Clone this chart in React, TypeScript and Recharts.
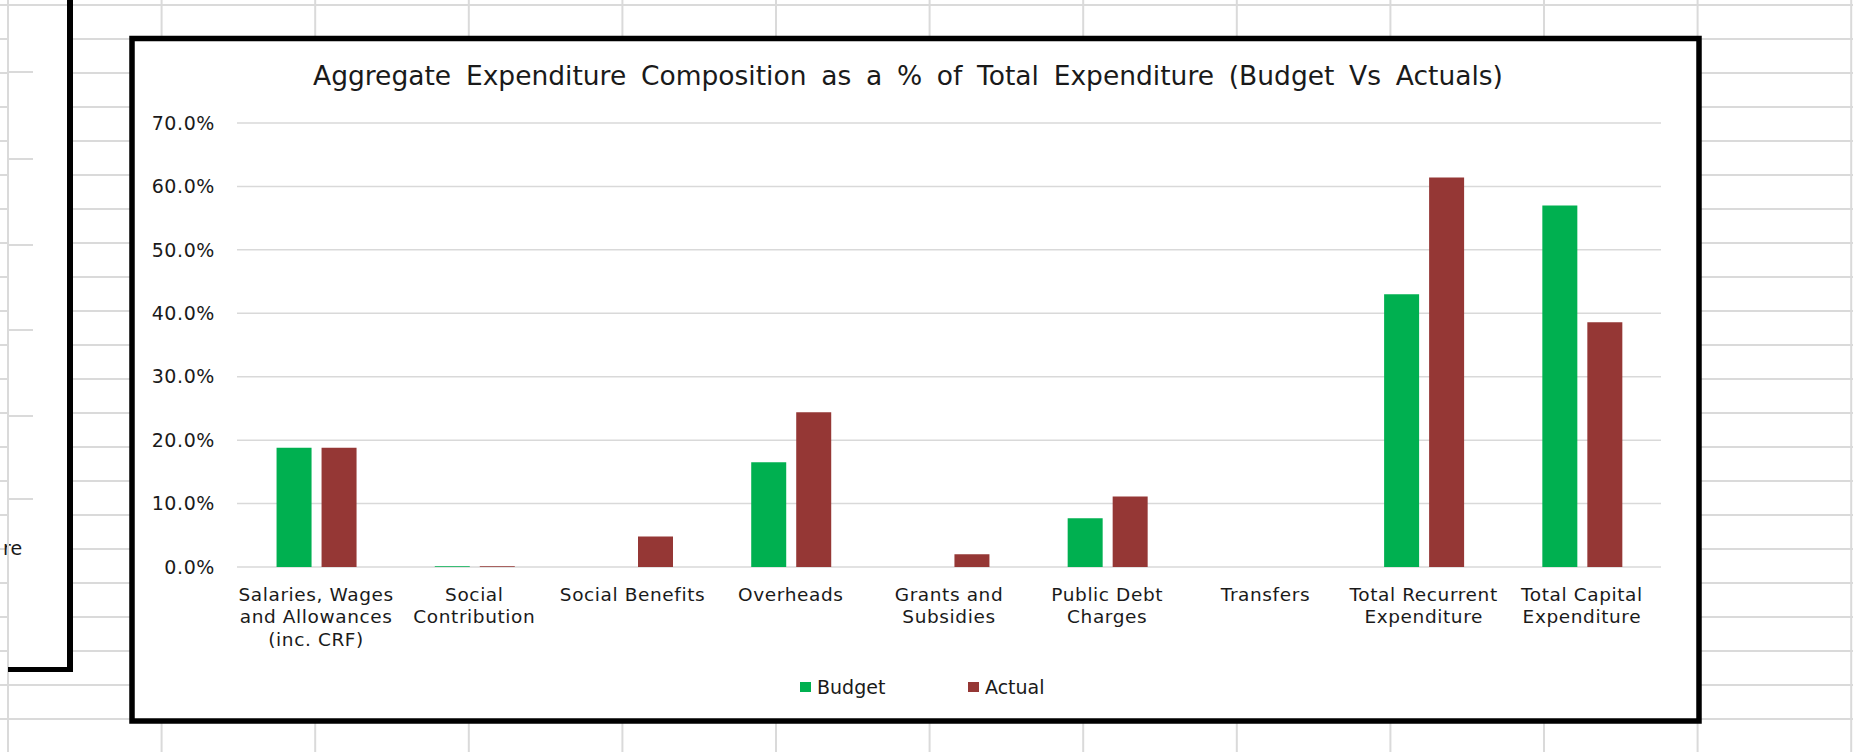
import React from 'react';
import { BarChart, Bar, XAxis, YAxis, CartesianGrid, Legend } from 'recharts';

const categories = [
  'Salaries, Wages\nand Allowances\n(inc. CRF)',
  'Social\nContribution',
  'Social Benefits',
  'Overheads',
  'Grants and\nSubsidies',
  'Public Debt\nCharges',
  'Transfers',
  'Total Recurrent\nExpenditure',
  'Total Capital\nExpenditure',
];
const budget = [18.8, 0.1, 0, 16.5, 0, 7.7, 0, 43.0, 57.0];
const actual = [18.8, 0.1, 4.8, 24.4, 2.0, 11.1, 0, 61.4, 38.6];
const yTicks = [0, 10, 20, 30, 40, 50, 60, 70];
const seriesNames = ['Budget', 'Actual'];
const seriesColors = ['#00B050', '#953735'];
const title = 'Aggregate Expenditure Composition as a % of Total Expenditure (Budget Vs Actuals)';
const clippedText = 're';

const data = categories.map((c, i) => ({ category: c, [seriesNames[0]]: budget[i], [seriesNames[1]]: actual[i] }));

const FONT = '"DejaVu Sans", Verdana, sans-serif';
const TEXT = '#1a1a1a';
const W = 1853;
const H = 752;

const CatTick = (props: any) => {
  const { x, y, payload } = props;
  const lines = String(payload.value).split('\n');
  return (
    <g>
      {lines.map((l: string, i: number) => (
        <text
          key={i}
          x={x}
          y={y + 33.5 + i * 22.5}
          textAnchor="middle"
          fontFamily={FONT}
          fontSize={18.5}
          fill={TEXT}
          style={{ letterSpacing: '0.6px' }}
        >
          {l}
        </text>
      ))}
    </g>
  );
};

const renderLegend = (props: any) => {
  const payload = [...(props.payload || [])].sort(
    (a: any, b: any) => seriesNames.indexOf(a.value) - seriesNames.indexOf(b.value)
  );
  return (
    <div style={{ display: 'flex', fontFamily: FONT, fontSize: 19, color: TEXT, lineHeight: '22px' }}>
      {payload.map((p: any, i: number) => (
        <div key={i} style={{ width: 168, display: 'flex', alignItems: 'center' }}>
          <span style={{ width: 11, height: 10, background: p.color, marginRight: 6, display: 'inline-block' }} />
          {p.value}
        </div>
      ))}
    </div>
  );
};

const Background = () => {
  const vx: number[] = [];
  for (let k = 0; k <= 12; k++) vx.push(8 + 153.6 * k);
  const hy: number[] = [];
  for (let k = 0; k <= 21; k++) hy.push(5 + 34 * k);
  const otherGrid = [72, 159, 245, 330, 416, 499];
  return (
    <svg width={W} height={H} style={{ position: 'absolute', left: 0, top: 0 }}>
      <rect x={0} y={0} width={W} height={H} fill="#ffffff" />
      {hy.map((y, i) => (
        <line key={'h' + i} x1={0} x2={W} y1={y} y2={y} stroke="#dadada" strokeWidth={2} />
      ))}
      {vx.map((x, i) => (
        <line key={'v' + i} x1={x} x2={x} y1={0} y2={H} stroke="#dadada" strokeWidth={2} />
      ))}
      {/* neighbouring chart (partially visible) */}
      <rect x={9} y={7} width={61} height={663} fill="#ffffff" />
      {otherGrid.map((y, i) => (
        <line key={'o' + i} x1={9} x2={33} y1={y} y2={y} stroke="#dadada" strokeWidth={2} />
      ))}
      <text x={3} y={555} fontFamily={FONT} fontSize={19} fill={TEXT}>{clippedText}</text>
      <line x1={8} x2={8} y1={0} y2={H} stroke="#dadada" strokeWidth={2} />
      <line x1={70} x2={70} y1={0} y2={672} stroke="#000" strokeWidth={6} />
      <line x1={8} x2={73} y1={669.5} y2={669.5} stroke="#000" strokeWidth={5} />
      {/* main chart frame */}
      <rect x={132} y={38.5} width={1567} height={682.5} fill="#ffffff" stroke="#000" strokeWidth={5.5} />
      <text
        x={908}
        y={84.5}
        textAnchor="middle"
        fontFamily={FONT}
        fontSize={26.5}
        fill={TEXT}
        style={{ wordSpacing: '6.3px' }}
      >
        {title}
      </text>
    </svg>
  );
};

export default function App() {
  return (
    <div style={{ position: 'absolute', left: 0, top: 0, width: W, height: H, overflow: 'hidden', background: '#fff' }}>
      <Background />
      <div style={{ position: 'absolute', left: 0, top: 0 }}>
        <BarChart
          width={W}
          height={H}
          data={data}
          margin={{ top: 123, right: 192, bottom: 125, left: 157 }}
          barCategoryGap="25%"
          barGap={10}
        >
          <CartesianGrid vertical={false} stroke="#d9d9d9" strokeWidth={1.5} />
          <XAxis
            dataKey="category"
            interval={0}
            height={60}
            axisLine={false}
            tickLine={false}
            tickSize={0}
            tickMargin={0}
            tick={<CatTick />}
          />
          <YAxis
            width={80}
            domain={[0, 70]}
            ticks={yTicks}
            axisLine={false}
            tickLine={false}
            tickSize={0}
            tickMargin={22}
            tickFormatter={(v: number) => v.toFixed(1) + '%'}
            tick={{ fill: TEXT, fontSize: 19, fontFamily: FONT, style: { letterSpacing: '0.6px' } }}
          />
          <Legend
            verticalAlign="middle"
            align="center"
            layout="horizontal"
            content={renderLegend}
            wrapperStyle={{ top: 676, left: 800, width: 340, height: 22 }}
          />
          <Bar dataKey={seriesNames[0]} fill={seriesColors[0]} isAnimationActive={false} />
          <Bar dataKey={seriesNames[1]} fill={seriesColors[1]} isAnimationActive={false} />
        </BarChart>
      </div>
    </div>
  );
}
